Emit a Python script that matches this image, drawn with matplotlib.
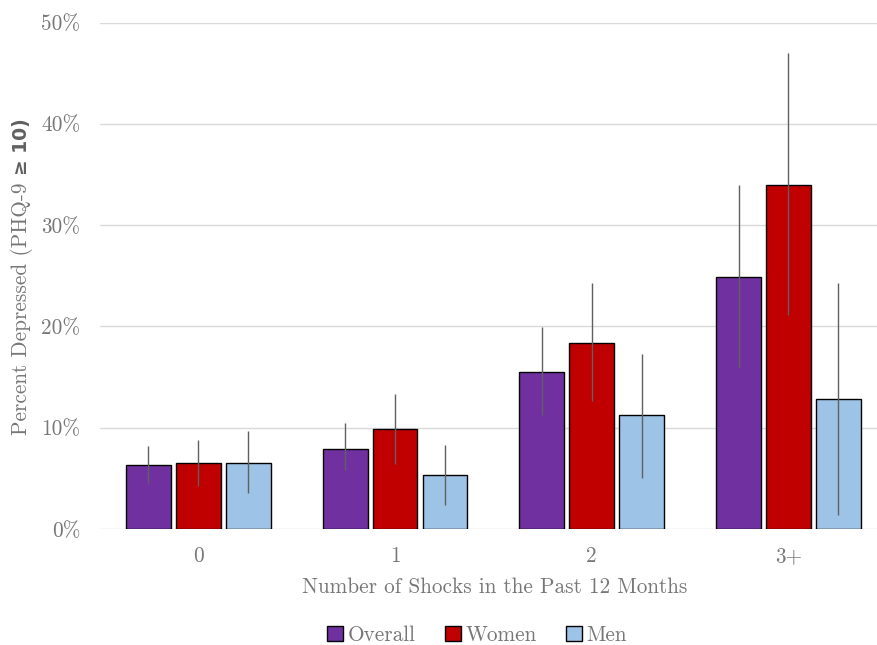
import matplotlib
matplotlib.use("Agg")
import matplotlib.pyplot as plt
from matplotlib.patches import Patch
import numpy as np

plt.rcParams['font.family'] = ['cmr10', 'DejaVu Serif']
plt.rcParams['axes.formatter.use_mathtext'] = True

categories = ["0", "1", "2", "3+"]
series = ["Overall", "Women", "Men"]
colors = ["#7030A0", "#C00000", "#9DC3E6"]

values = {
    "Overall": [6.3, 7.9, 15.5, 24.9],
    "Women":   [6.5, 9.9, 18.4, 34.0],
    "Men":     [6.5, 5.3, 11.2, 12.8],
}
lower = {
    "Overall": [4.5, 5.8, 11.2, 15.9],
    "Women":   [4.2, 6.4, 12.6, 21.1],
    "Men":     [3.5, 2.4, 5.0, 1.4],
}
upper = {
    "Overall": [8.2, 10.5, 19.9, 34.0],
    "Women":   [8.8, 13.3, 24.3, 47.0],
    "Men":     [9.7, 8.3, 17.3, 24.3],
}
yticks = [0, 10, 20, 30, 40, 50]
ytick_labels = ["0%", "10%", "20%", "30%", "40%", "50%"]

fig = plt.figure(figsize=(8.77, 6.45), dpi=100)
ax = fig.add_axes([0.114, 0.180, 0.886, 0.785])

x = np.arange(len(categories))
width = 0.228
offset = 0.254
grey = "#777777"
fs = 15.3

for i, name in enumerate(series):
    xs = x + (i - 1) * offset
    v = np.array(values[name])
    lo = np.array(lower[name])
    hi = np.array(upper[name])
    ax.bar(xs, v, width=width, color=colors[i], edgecolor="black",
           linewidth=1.0, zorder=3)
    ax.vlines(xs, lo, hi, color="#606060", linewidth=1.0, zorder=4)

ax.set_xlim(-0.5, 3.45)
ax.set_ylim(0, 50)
ax.set_yticks(yticks)
ax.set_yticklabels(ytick_labels)
ax.set_xticks(x)
ax.set_xticklabels(categories)
ax.grid(axis="y", color="#d9d9d9", linewidth=1.0, zorder=0)
for s in ax.spines.values():
    s.set_visible(False)
ax.tick_params(axis="both", length=0, labelsize=fs, labelcolor=grey)
ax.tick_params(axis="y", pad=14)
ax.tick_params(axis="x", pad=13)

ax.set_xlabel("Number of Shocks in the Past 12 Months", fontsize=fs,
              color=grey, labelpad=8)
ax.xaxis.set_label_coords(0.508, -0.095)

# y-axis label: serif text followed by a bold sans "≥ 10)"
fig.canvas.draw()
t1 = fig.text(0.025, 0.326, "Percent Depressed (PHQ-9 ", rotation=90,
              ha="center", va="bottom", fontsize=fs, color=grey)
fig.canvas.draw()
bb = t1.get_window_extent()
top = bb.y1 / fig.bbox.height
fig.text(0.025, top, "≥ 10)", rotation=90, ha="center", va="bottom",
         fontsize=13.5, color="#606060", family="DejaVu Sans", weight="bold")

handles = [Patch(facecolor=c, edgecolor="black", label=n)
           for n, c in zip(series, colors)]
leg = fig.legend(handles=handles, loc="center", ncol=3, frameon=False,
                 fontsize=fs, bbox_to_anchor=(0.544, 0.015),
                 handlelength=0.75, handleheight=0.75, handletextpad=0.2,
                 columnspacing=1.4)
for t in leg.get_texts():
    t.set_color(grey)

fig.savefig("out.png", dpi=100)
